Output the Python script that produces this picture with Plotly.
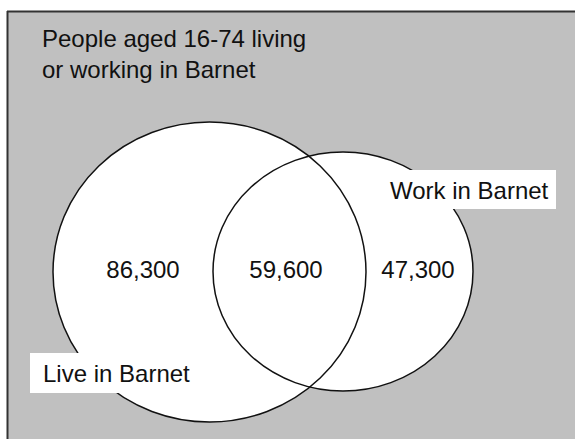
import plotly.graph_objects as go

# Venn counts (people aged 16-74)
region_names = ['Live only', 'Live and work', 'Work only']
region_counts = [86300, 59600, 47300]
set_labels = ['Live in Barnet', 'Work in Barnet']
title_lines = ['People aged 16-74 living', 'or working in Barnet']

W, H = 575, 439
FONT = 'Arial, Liberation Sans, sans-serif'

# ellipse extents in pixel space: (x0, x1, y0, y1)
live_ell = (53, 366, 122, 422)
work_ell = (213, 473, 152, 391)

fig = go.Figure()

# count labels inside each region
fig.add_trace(go.Scatter(
    x=[143, 286, 418],
    y=[272, 272, 272],
    mode='text',
    text=[f'{v:,}' for v in region_counts],
    textfont=dict(family=FONT, size=24, color='#111111'),
    hovertext=region_names,
    hoverinfo='text',
    showlegend=False,
))

shapes = [
    # grey panel with top / left border
    dict(type='rect', x0=8, x1=W, y0=12, y1=H, fillcolor='#c0c0c0', line_width=0),
    dict(type='line', x0=7, x1=W, y0=11.5, y1=11.5, line=dict(color='#333333', width=2)),
    dict(type='line', x0=7.5, x1=7.5, y0=11, y1=H, line=dict(color='#333333', width=2)),
]
for e in (live_ell, work_ell):
    shapes.append(dict(type='circle', x0=e[0], x1=e[1], y0=e[2], y1=e[3],
                       fillcolor='white', line_width=0))
for e in (live_ell, work_ell):
    shapes.append(dict(type='circle', x0=e[0], x1=e[1], y0=e[2], y1=e[3],
                       fillcolor='rgba(0,0,0,0)', line=dict(color='#111111', width=1.5)))
# white boxes behind the set labels
shapes.append(dict(type='rect', x0=30, x1=198, y0=353, y1=393, fillcolor='white', line_width=0))
shapes.append(dict(type='rect', x0=380, x1=556, y0=170, y1=209, fillcolor='white', line_width=0))
for s in shapes:
    s.update(xref='x', yref='y', layer='below')

annotations = [
    dict(x=40, y=54, text='<br>'.join(title_lines), xanchor='left', yanchor='middle', align='left'),
    dict(x=41, y=373, text=set_labels[0], xanchor='left', yanchor='middle'),
    dict(x=388, y=190, text=set_labels[1], xanchor='left', yanchor='middle'),
]
for a in annotations:
    a.update(xref='x', yref='y', showarrow=False,
             font=dict(family=FONT, size=24, color='#111111'))

fig.update_layout(
    width=W, height=H,
    margin=dict(l=0, r=0, t=0, b=0),
    paper_bgcolor='white',
    plot_bgcolor='white',
    shapes=shapes,
    annotations=annotations,
    xaxis=dict(range=[0, W], visible=False, fixedrange=True),
    yaxis=dict(range=[H, 0], visible=False, fixedrange=True),
)

fig.write_html(
    'out.html',
    config={'displayModeBar': False},
    post_script="document.body.style.margin='0';document.body.style.overflow='hidden';",
)
